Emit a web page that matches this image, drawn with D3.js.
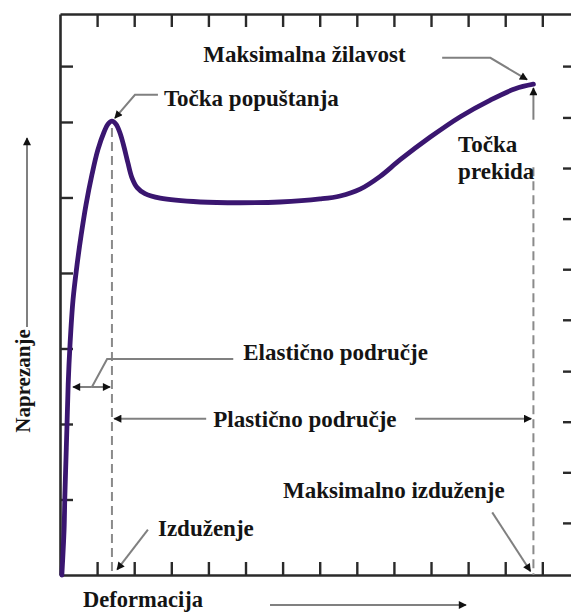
<!DOCTYPE html>
<html>
<head>
<meta charset="utf-8">
<script src="https://cdn.jsdelivr.net/npm/d3@7"></script>
<style>
	body { margin: 0; background: #fff; }
	text { font-family: "Liberation Serif", "Times New Roman", serif; font-weight: bold; fill: #141414; }
</style>
</head>
<body>
<svg class="chart"></svg>
<script>
// curve (strain in tick units, stress in tick units)
var strain = [0.05, 0.11, 0.13, 0.16, 0.19, 0.22, 0.27, 0.35, 0.46, 0.57, 0.70, 0.86, 1.02, 1.19, 1.29, 1.40,
	1.51, 1.62, 1.73, 1.83, 1.94, 2.08, 2.29, 2.70, 3.78, 4.85, 5.93, 7.01, 7.55, 8.09, 8.63, 9.17, 9.98, 10.79, 11.60, 12.27, 12.76];
var stress = [0, 0.60, 1.03, 1.52, 2.01, 2.52, 3.05, 3.64, 4.11, 4.50, 4.90, 5.30, 5.63, 5.87, 5.97, 6.01,
	5.97, 5.85, 5.66, 5.46, 5.26, 5.13, 5.05, 4.99, 4.94, 4.93, 4.94, 4.98, 5.02, 5.11, 5.28, 5.50, 5.80, 6.07, 6.29, 6.44, 6.50];

var xTicks = [1, 2, 3, 4, 5, 6, 7, 8, 9, 10, 11, 12, 13];
var leftTicks = [1, 2, 3, 4, 5, 6, 6.74];
var rightTicks = [0.69, 1.36, 2.03, 2.70, 3.38, 4.05, 4.72, 5.39, 6.06, 6.74];

var yieldStrain = 1.40,
	breakStrain = 12.76;

var labels = ["Maksimalna žilavost", "Točka popuštanja", "Točka", "prekida", "Elastično područje",
	"Plastično područje", "Maksimalno izduženje", "Izduženje"];
var xTitle = "Deformacija",
	yTitle = "Naprezanje";

var width = 571, height = 614;
var margin = {top: 14, left: 60, right: 572, bottom: 575};

var x = d3.scaleLinear().domain([0, 13.8]).range([margin.left, margin.right]);
var y = d3.scaleLinear().domain([0, 7.43]).range([margin.bottom, margin.top]);

var chart = d3.select(".chart")
	.attr("width", width)
	.attr("height", height);

var defs = chart.append("defs");
defs.append("marker")
	.attr("id", "head")
	.attr("viewBox", "0 0 10 10")
	.attr("refX", 9).attr("refY", 5)
	.attr("markerWidth", 11).attr("markerHeight", 8)
	.attr("markerUnits", "userSpaceOnUse")
	.attr("orient", "auto")
  .append("path")
	.attr("d", "M0,0L10,5L0,10z")
	.style("fill", "#111");

function styleAxis(g) {
	g.selectAll("path.domain").style("stroke", "#2a2a2a").style("stroke-width", 2.6);
	g.selectAll(".tick line").style("stroke", "#2a2a2a").style("stroke-width", 2.4);
	g.selectAll(".tick text").remove();
}

chart.append("g")
	.attr("transform", "translate(0," + y(0) + ")")
	.call(d3.axisBottom(x).tickValues(xTicks).tickSize(-13).tickSizeOuter(0).tickFormat(""))
	.call(styleAxis);
chart.append("g")
	.attr("transform", "translate(0," + y(7.43) + ")")
	.call(d3.axisTop(x).tickValues(xTicks).tickSize(-13).tickSizeOuter(0).tickFormat(""))
	.call(styleAxis);
chart.append("g")
	.attr("transform", "translate(" + x(0) + ",0)")
	.call(d3.axisLeft(y).tickValues(leftTicks).tickSize(-13).tickSizeOuter(0).tickFormat(""))
	.call(styleAxis);
chart.append("g")
	.attr("transform", "translate(" + x(13.8) + ",0)")
	.call(d3.axisRight(y).tickValues(rightTicks).tickSize(-9).tickSizeOuter(0).tickFormat(""))
	.call(styleAxis);

// dashed guides
function dash(sx, y0, y1) {
	chart.append("line")
		.attr("x1", x(sx)).attr("x2", x(sx))
		.attr("y1", y(y0)).attr("y2", y(y1))
		.style("stroke", "#8a8a8a").style("stroke-width", 2)
		.style("stroke-dasharray", "9,5");
}
dash(yieldStrain, 5.92, 0);
dash(breakStrain, 5.40, 0);

// leader lines, points in data units
function leader(pts, arrow) {
	var p = chart.append("path")
		.attr("d", d3.line().x(function(d) { return x(d[0]); }).y(function(d) { return y(d[1]); })(pts))
		.style("fill", "none").style("stroke", "#808080").style("stroke-width", 2);
	if (arrow) p.attr("marker-end", "url(#head)");
}
leader([[10.30, 6.85], [11.60, 6.85], [12.59, 6.56]], true);
leader([[2.64, 6.36], [2.02, 6.36], [1.48, 6.05]], true);
leader([[12.76, 6.03], [12.76, 6.45]], true);
leader([[4.67, 2.86], [1.27, 2.86], [0.86, 2.49]], false);
leader([[0.86, 2.49], [0.35, 2.49]], true);
leader([[0.86, 2.49], [1.35, 2.49]], true);
leader([[3.94, 2.07], [1.46, 2.07]], true);
leader([[9.57, 2.07], [12.70, 2.07]], true);
leader([[11.65, 0.83], [12.68, 0.05]], true);
leader([[2.37, 0.60], [1.54, 0.07]], true);

// stress-strain curve
var pts = strain.map(function(s, i) { return [s, stress[i]]; });
chart.append("path")
	.attr("d", d3.line().curve(d3.curveCatmullRom)
		.x(function(d) { return x(d[0]); })
		.y(function(d) { return y(d[1]); })(pts))
	.style("fill", "none")
	.style("stroke", "#3a1670")
	.style("stroke-width", 4.8)
	.style("stroke-linecap", "round");

// labels
var labelPos = [[3.86, 6.79], [2.80, 6.21], [10.73, 5.60], [10.73, 5.25], [4.94, 2.85],
	[4.13, 1.96], [6.01, 1.02], [2.64, 0.52]];
chart.selectAll("text.lab")
	.data(labels)
  .enter().append("text")
	.attr("class", "lab")
	.attr("x", function(d, i) { return x(labelPos[i][0]); })
	.attr("y", function(d, i) { return y(labelPos[i][1]); })
	.style("font-size", "23px")
	.text(function(d) { return d; });

// axis titles with arrows
chart.append("text")
	.attr("x", 83).attr("y", 607)
	.style("font-size", "22.5px")
	.text(xTitle);
chart.append("line")
	.attr("x1", 270).attr("x2", 466).attr("y1", 605).attr("y2", 605)
	.style("stroke", "#808080").style("stroke-width", 2)
	.attr("marker-end", "url(#head)");

chart.append("text")
	.attr("transform", "translate(30,381) rotate(-90)")
	.style("text-anchor", "middle")
	.style("font-size", "21px")
	.text(yTitle);
chart.append("line")
	.attr("x1", 27).attr("x2", 27).attr("y1", 327).attr("y2", 138)
	.style("stroke", "#808080").style("stroke-width", 2)
	.attr("marker-end", "url(#head)");
</script>
</body>
</html>
